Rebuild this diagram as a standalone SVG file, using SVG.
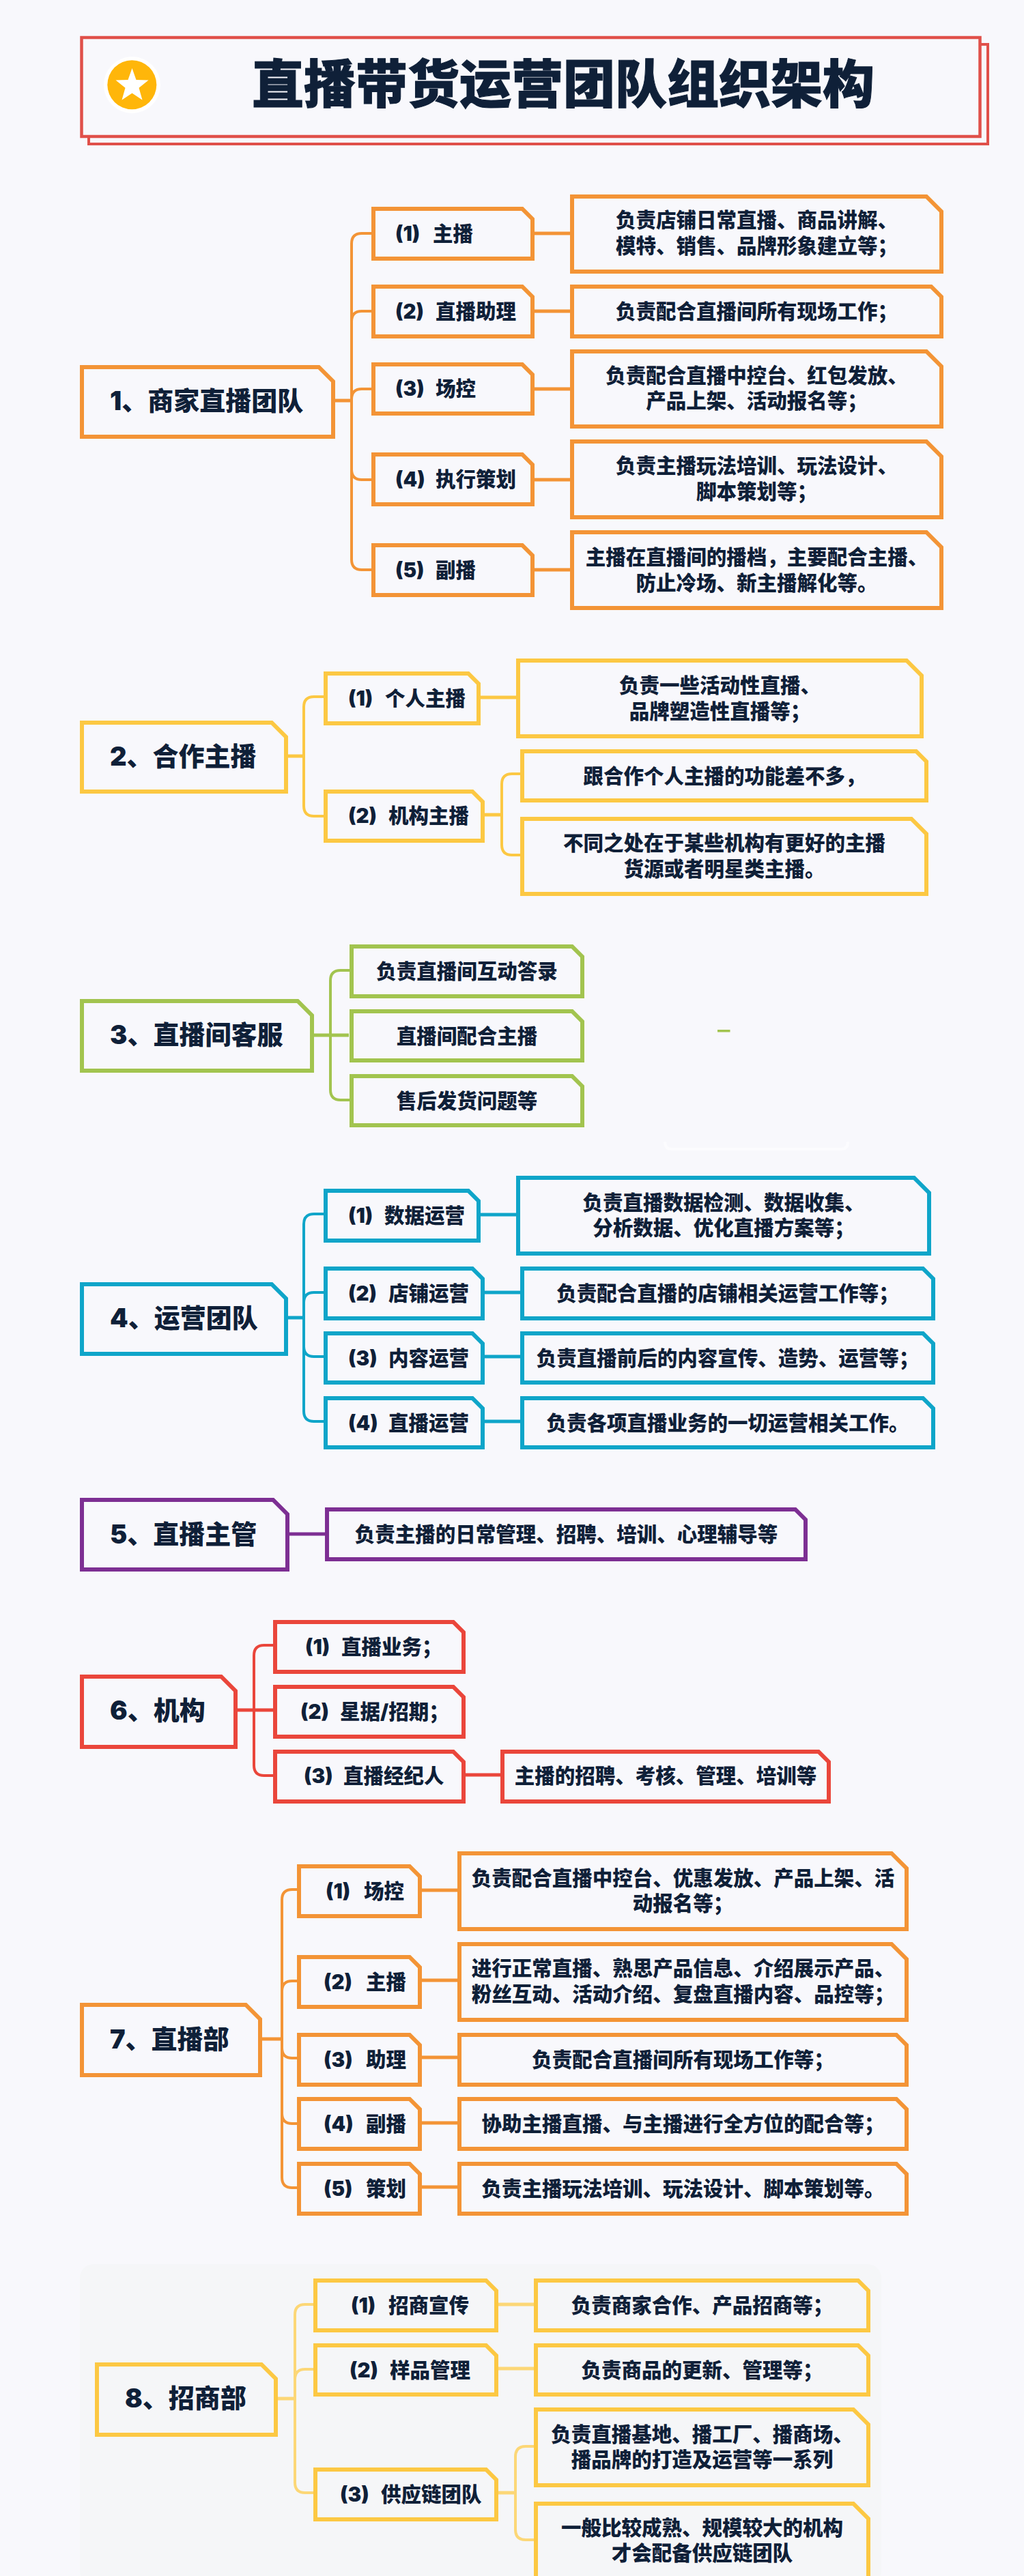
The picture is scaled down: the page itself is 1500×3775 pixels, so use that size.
<svg xmlns="http://www.w3.org/2000/svg" width="1500" height="3775" viewBox="0 0 1500 3775">
<style>
text{font-family:Inter,"Noto Sans CJK SC","Noto Sans",sans-serif;font-weight:900;fill:#0f2038}
.title{font-family:"Noto Sans CJK SC",sans-serif;font-size:76px;font-weight:900;text-anchor:middle;stroke:#0f2038;stroke-width:1}
.r{font-size:38px}
.s{font-size:29.500px}
.t{font-size:29.500px;text-anchor:middle}
polygon.n{fill:none;stroke-width:6;stroke-miterlimit:10}
path{fill:none;stroke-width:4}
path.st{stroke-width:5}
.o{stroke:#f39436}.y{stroke:#fcc843}.g{stroke:#a2c44f}.b{stroke:#0fa5c9}.p{stroke:#7d2f93}.e{stroke:#ea463b}.l{stroke:#fcd777}
</style>
<rect width="1500" height="3775" fill="#f8f8fc"/>
<rect x="117" y="3318" width="1174" height="470" rx="20" fill="#f5f6f8"/>

<g id="title">
<rect x="130" y="65" width="1317" height="146" fill="#f8f8fc" stroke="#e0504a" stroke-width="4"/>
<rect x="119.500" y="55" width="1316" height="145" fill="#f8f8fc" stroke="#e0504a" stroke-width="4.500"/>
<circle cx="193.500" cy="124.500" r="41.500" fill="#ffffff"/>
<circle cx="193.300" cy="124.200" r="36" fill="#ffb60a"/>
<polygon points="193.500,100 199.500,117.100 217.500,117.500 203.500,128.800 208.500,146.500 193.500,136.500 178.500,146.500 183.500,128.800 169.500,117.500 187.500,117.100" fill="#ffffff"/>
<text class="title" x="825" y="151">直播带货运营团队组织架构</text>
</g>

<g id="connectors">
<path class="o st" d="M491,587 H515 M783,342 H835 M783,456 H835 M783,570 H835 M783,703 H835 M783,835 H835"/>
<path class="o" d="M544,342 H530 Q515,342 515,357 V820 Q515,835 530,835 H544 M515,471 Q515,456 530,456 H544 M515,585 Q515,570 530,570 H544 M515,688 Q515,703 530,703 H544"/>

<path class="y st" d="M422,1108 H445 M704,1022 H756 M710,1194 H735"/>
<path class="y" d="M474,1021 H460 Q445,1021 445,1036 V1181 Q445,1196 460,1196 H474 M762,1134 H750 Q735,1134 735,1149 V1238 Q735,1253 750,1253 H762"/>

<path class="g st" d="M460,1517 H511"/>
<path class="g" d="M512,1422 H499 Q484,1422 484,1437 V1597 Q484,1612 499,1612 H512"/>
<rect x="1051" y="1509" width="18.500" height="3.500" fill="#a2c44f"/>
<path d="M974,1673 Q974,1684 984,1684 H1232 Q1242,1684 1242,1673" stroke="#fcfcfe" stroke-width="1.500"/>

<path class="b st" d="M422,1931 H445 M704,1780 H756 M710,1894 H762 M710,1988 H762 M710,2083 H762"/>
<path class="b" d="M474,1779 H460 Q445,1779 445,1794 V2068 Q445,2083 460,2083 H474 M445,1909 Q445,1894 460,1894 H474 M445,1973 Q445,1988 460,1988 H474"/>

<path class="p st" d="M424,2248 H476"/>

<path class="e st" d="M348,2506 H400 M682,2601 H733"/>
<path class="e" d="M400,2411 H387 Q372,2411 372,2426 V2587 Q372,2602 387,2602 H400"/>

<path class="o st" d="M384,2988 H413 M618,2770 H670 M618,2902 H670 M618,3015 H670 M618,3111 H670 M618,3205 H670"/>
<path class="o" d="M436,2769 H428 Q413,2769 413,2784 V3191 Q413,3206 428,3206 H436 M413,2918 Q413,2903 428,2903 H436 M413,3001 Q413,3016 428,3016 H436 M413,3097 Q413,3112 428,3112 H436"/>

<path class="l st" d="M407,3515 H432 M730,3377 H782 M730,3471 H782 M730,3653 H755"/>
<path class="l" d="M459,3377 H447 Q432,3377 432,3392 V3638 Q432,3653 447,3653 H459 M432,3487 Q432,3472 447,3472 H459 M782,3585 H770 Q755,3585 755,3600 V3707 Q755,3722 770,3722 H782"/>
</g>

<g id="group1-root"><polygon class="n o" points="120,538 467,538 488,559 488,640 120,640"/><text class="r" x="161" y="601">1、商家直播团队</text></g>
<g id="g1-s1"><polygon class="n o" points="547,306 765,306 780,321 780,379 547,379"/><text class="s" x="579" y="353">(1) <tspan x="634">主播</tspan></text></g>
<g id="g1-s2"><polygon class="n o" points="547,420 765,420 780,435 780,493 547,493"/><text class="s" x="579" y="467">(2) <tspan x="638">直播助理</tspan></text></g>
<g id="g1-s3"><polygon class="n o" points="547,534 765,534 780,549 780,606 547,606"/><text class="s" x="579" y="580">(3) <tspan x="638">场控</tspan></text></g>
<g id="g1-s4"><polygon class="n o" points="547,666 765,666 780,681 780,739 547,739"/><text class="s" x="579" y="713">(4) <tspan x="638">执行策划</tspan></text></g>
<g id="g1-s5"><polygon class="n o" points="547,799 765,799 780,814 780,872 547,872"/><text class="s" x="579" y="846">(5) <tspan x="638">副播</tspan></text></g>
<g id="g1-d1"><polygon class="n o" points="838,288 1357,288 1379,310 1379,398 838,398"/><text class="t" x="1108.500" y="333">负责店铺日常直播、商品讲解、</text><text class="t" x="1108.500" y="370.500">模特、销售、品牌形象建立等；</text></g>
<g id="g1-d2"><polygon class="n o" points="838,420 1364,420 1379,435 1379,493 838,493"/><text class="t" x="1108.500" y="466.500">负责配合直播间所有现场工作；</text></g>
<g id="g1-d3"><polygon class="n o" points="838,515 1357,515 1379,537 1379,625 838,625"/><text class="t" x="1108.500" y="560.500">负责配合直播中控台、红包发放、</text><text class="t" x="1108.500" y="598">产品上架、活动报名等；</text></g>
<g id="g1-d4"><polygon class="n o" points="838,647 1357,647 1379,669 1379,758 838,758"/><text class="t" x="1108.500" y="693">负责主播玩法培训、玩法设计、</text><text class="t" x="1108.500" y="731">脚本策划等；</text></g>
<g id="g1-d5"><polygon class="n o" points="838,780 1357,780 1379,802 1379,891 838,891"/><text class="t" x="1108.500" y="827">主播在直播间的播档，主要配合主播、</text><text class="t" x="1108.500" y="864.500">防止冷场、新主播解化等。</text></g>

<g id="group2-root"><polygon class="n y" points="120,1059 398,1059 419,1080 419,1160 120,1160"/><text class="r" x="161" y="1121.500">2、合作主播</text></g>
<g id="g2-s1"><polygon class="n y" points="477,987 686,987 701,1002 701,1060 477,1060"/><text class="s" x="510" y="1034">(1) <tspan x="564">个人主播</tspan></text></g>
<g id="g2-s2"><polygon class="n y" points="477,1160 692,1160 707,1175 707,1232 477,1232"/><text class="s" x="510" y="1206">(2) <tspan x="569">机构主播</tspan></text></g>
<g id="g2-d1"><polygon class="n y" points="759,968 1328,968 1350,990 1350,1079 759,1079"/><text class="t" x="1054.500" y="1014.500">负责一些活动性直播、</text><text class="t" x="1054.500" y="1052.500">品牌塑造性直播等；</text></g>
<g id="g2-d2"><polygon class="n y" points="765,1101 1342,1101 1357,1116 1357,1173 765,1173"/><text class="t" x="1061" y="1147.500">跟合作个人主播的功能差不多，</text></g>
<g id="g2-d3"><polygon class="n y" points="765,1200 1335,1200 1357,1222 1357,1310 765,1310"/><text class="t" x="1061" y="1246">不同之处在于某些机构有更好的主播</text><text class="t" x="1061" y="1284">货源或者明星类主播。</text></g>

<g id="group3-root"><polygon class="n g" points="120,1467 436,1467 457,1488 457,1569 120,1569"/><text class="r" x="161" y="1530">3、直播间客服</text></g>
<g id="g3-d1"><polygon class="n g" points="515,1387 838,1387 853,1402 853,1460 515,1460"/><text class="t" x="684" y="1434">负责直播间互动答录</text></g>
<g id="g3-d2"><polygon class="n g" points="515,1482 838,1482 853,1497 853,1554 515,1554"/><text class="t" x="684" y="1528.500">直播间配合主播</text></g>
<g id="g3-d3"><polygon class="n g" points="515,1577 838,1577 853,1592 853,1649 515,1649"/><text class="t" x="684" y="1623.500">售后发货问题等</text></g>

<g id="group4-root"><polygon class="n b" points="120,1882 398,1882 419,1903 419,1984 120,1984"/><text class="r" x="161" y="1945">4、运营团队</text></g>
<g id="g4-s1"><polygon class="n b" points="477,1745 686,1745 701,1760 701,1818 477,1818"/><text class="s" x="510" y="1792">(1) <tspan x="563">数据运营</tspan></text></g>
<g id="g4-s2"><polygon class="n b" points="477,1859 692,1859 707,1874 707,1932 477,1932"/><text class="s" x="510" y="1905.500">(2) <tspan x="569">店铺运营</tspan></text></g>
<g id="g4-s3"><polygon class="n b" points="477,1954 692,1954 707,1969 707,2026 477,2026"/><text class="s" x="510" y="2000.500">(3) <tspan x="569">内容运营</tspan></text></g>
<g id="g4-s4"><polygon class="n b" points="477,2049 692,2049 707,2064 707,2121 477,2121"/><text class="s" x="510" y="2095.500">(4) <tspan x="569">直播运营</tspan></text></g>
<g id="g4-d1"><polygon class="n b" points="759,1726 1339,1726 1361,1748 1361,1837 759,1837"/><text class="t" x="1060" y="1772.500">负责直播数据检测、数据收集、</text><text class="t" x="1060" y="1810">分析数据、优化直播方案等；</text></g>
<g id="g4-d2"><polygon class="n b" points="765,1859 1352,1859 1367,1874 1367,1932 765,1932"/><text class="t" x="1066" y="1905.500">负责配合直播的店铺相关运营工作等；</text></g>
<g id="g4-d3"><polygon class="n b" points="765,1954 1352,1954 1367,1969 1367,2026 765,2026"/><text class="t" x="1066" y="2000.500">负责直播前后的内容宣传、造势、运营等；</text></g>
<g id="g4-d4"><polygon class="n b" points="765,2049 1352,2049 1367,2064 1367,2121 765,2121"/><text class="t" x="1066" y="2095.500">负责各项直播业务的一切运营相关工作。</text></g>

<g id="group5-root"><polygon class="n p" points="120,2198 400,2198 421,2219 421,2300 120,2300"/><text class="r" x="161" y="2261.500">5、直播主管</text></g>
<g id="g5-d1"><polygon class="n p" points="479,2212 1165,2212 1180,2227 1180,2285 479,2285"/><text class="t" x="829.500" y="2259">负责主播的日常管理、招聘、培训、心理辅导等</text></g>

<g id="group6-root"><polygon class="n e" points="120,2457 324,2457 345,2478 345,2560 120,2560"/><text class="r" x="161" y="2520">6、机构</text></g>
<g id="g6-s1"><polygon class="n e" points="403,2377 664,2377 679,2392 679,2450 403,2450"/><text class="s" x="447" y="2424">(1) <tspan x="500">直播业务；</tspan></text></g>
<g id="g6-s2"><polygon class="n e" points="403,2472 664,2472 679,2487 679,2545 403,2545"/><text class="s" x="440" y="2519">(2) <tspan x="498">星据/招期；</tspan></text></g>
<g id="g6-s3"><polygon class="n e" points="403,2567 664,2567 679,2582 679,2640 403,2640"/><text class="s" x="445" y="2613">(3) <tspan x="503">直播经纪人</tspan></text></g>
<g id="g6-d1"><polygon class="n e" points="736,2567 1199,2567 1214,2582 1214,2640 736,2640"/><text class="t" x="975" y="2613">主播的招聘、考核、管理、培训等</text></g>

<g id="group7-root"><polygon class="n o" points="120,2938 360,2938 381,2959 381,3041 120,3041"/><text class="r" x="161" y="3002">7、直播部</text></g>
<g id="g7-s1"><polygon class="n o" points="438,2735 600,2735 615,2750 615,2808 438,2808"/><text class="s" x="477" y="2782">(1) <tspan x="533">场控</tspan></text></g>
<g id="g7-s2"><polygon class="n o" points="438,2868 600,2868 615,2883 615,2941 438,2941"/><text class="s" x="474" y="2915">(2) <tspan x="536">主播</tspan></text></g>
<g id="g7-s3"><polygon class="n o" points="438,2982 600,2982 615,2997 615,3055 438,3055"/><text class="s" x="474" y="3029">(3) <tspan x="536">助理</tspan></text></g>
<g id="g7-s4"><polygon class="n o" points="438,3076 600,3076 615,3091 615,3149 438,3149"/><text class="s" x="474" y="3123">(4) <tspan x="536">副播</tspan></text></g>
<g id="g7-s5"><polygon class="n o" points="438,3171 600,3171 615,3186 615,3244 438,3244"/><text class="s" x="474" y="3218">(5) <tspan x="536">策划</tspan></text></g>
<g id="g7-d1"><polygon class="n o" points="673,2716 1306,2716 1328,2738 1328,2827 673,2827"/><text class="t" x="1000.500" y="2762.500">负责配合直播中控台、优惠发放、产品上架、活</text><text class="t" x="1000.500" y="2800">动报名等；</text></g>
<g id="g7-d2"><polygon class="n o" points="673,2849 1306,2849 1328,2871 1328,2960 673,2960"/><text class="t" x="1000.500" y="2895">进行正常直播、熟思产品信息、介绍展示产品、</text><text class="t" x="1000.500" y="2933">粉丝互动、活动介绍、复盘直播内容、品控等；</text></g>
<g id="g7-d3"><polygon class="n o" points="673,2982 1313,2982 1328,2997 1328,3055 673,3055"/><text class="t" x="1000.500" y="3028.500">负责配合直播间所有现场工作等；</text></g>
<g id="g7-d4"><polygon class="n o" points="673,3076 1313,3076 1328,3091 1328,3149 673,3149"/><text class="t" x="1000.500" y="3123">协助主播直播、与主播进行全方位的配合等；</text></g>
<g id="g7-d5"><polygon class="n o" points="673,3171 1313,3171 1328,3186 1328,3244 673,3244"/><text class="t" x="1000.500" y="3217.500">负责主播玩法培训、玩法设计、脚本策划等。</text></g>

<g id="group8-root"><polygon class="n y" points="142,3465 383,3465 404,3486 404,3568 142,3568"/><text class="r" x="183" y="3528">8、招商部</text></g>
<g id="g8-s1"><polygon class="n y" points="462,3342 712,3342 727,3357 727,3415 462,3415"/><text class="s" x="514" y="3388.500">(1) <tspan x="569">招商宣传</tspan></text></g>
<g id="g8-s2"><polygon class="n y" points="462,3437 712,3437 727,3452 727,3509 462,3509"/><text class="s" x="512" y="3483.500">(2) <tspan x="571">样品管理</tspan></text></g>
<g id="g8-s3"><polygon class="n y" points="462,3619 712,3619 727,3634 727,3692 462,3692"/><text class="s" x="498" y="3666">(3) <tspan x="558">供应链团队</tspan></text></g>
<g id="g8-d1"><polygon class="n y" points="785,3342 1257,3342 1272,3357 1272,3415 785,3415"/><text class="t" x="1028.500" y="3388.500">负责商家合作、产品招商等；</text></g>
<g id="g8-d2"><polygon class="n y" points="785,3437 1257,3437 1272,3452 1272,3509 785,3509"/><text class="t" x="1028.500" y="3483.500">负责商品的更新、管理等；</text></g>
<g id="g8-d3"><polygon class="n y" points="785,3531 1250,3531 1272,3553 1272,3642 785,3642"/><text class="t" x="1028.500" y="3577.500">负责直播基地、播工厂、播商场、</text><text class="t" x="1028.500" y="3615">播品牌的打造及运营等一系列</text></g>
<g id="g8-d4"><polygon class="n y" points="785,3669 1250,3669 1272,3691 1272,3780 785,3780"/><text class="t" x="1028.500" y="3715">一般比较成熟、规模较大的机构</text><text class="t" x="1028.500" y="3752">才会配备供应链团队</text></g>
</svg>
